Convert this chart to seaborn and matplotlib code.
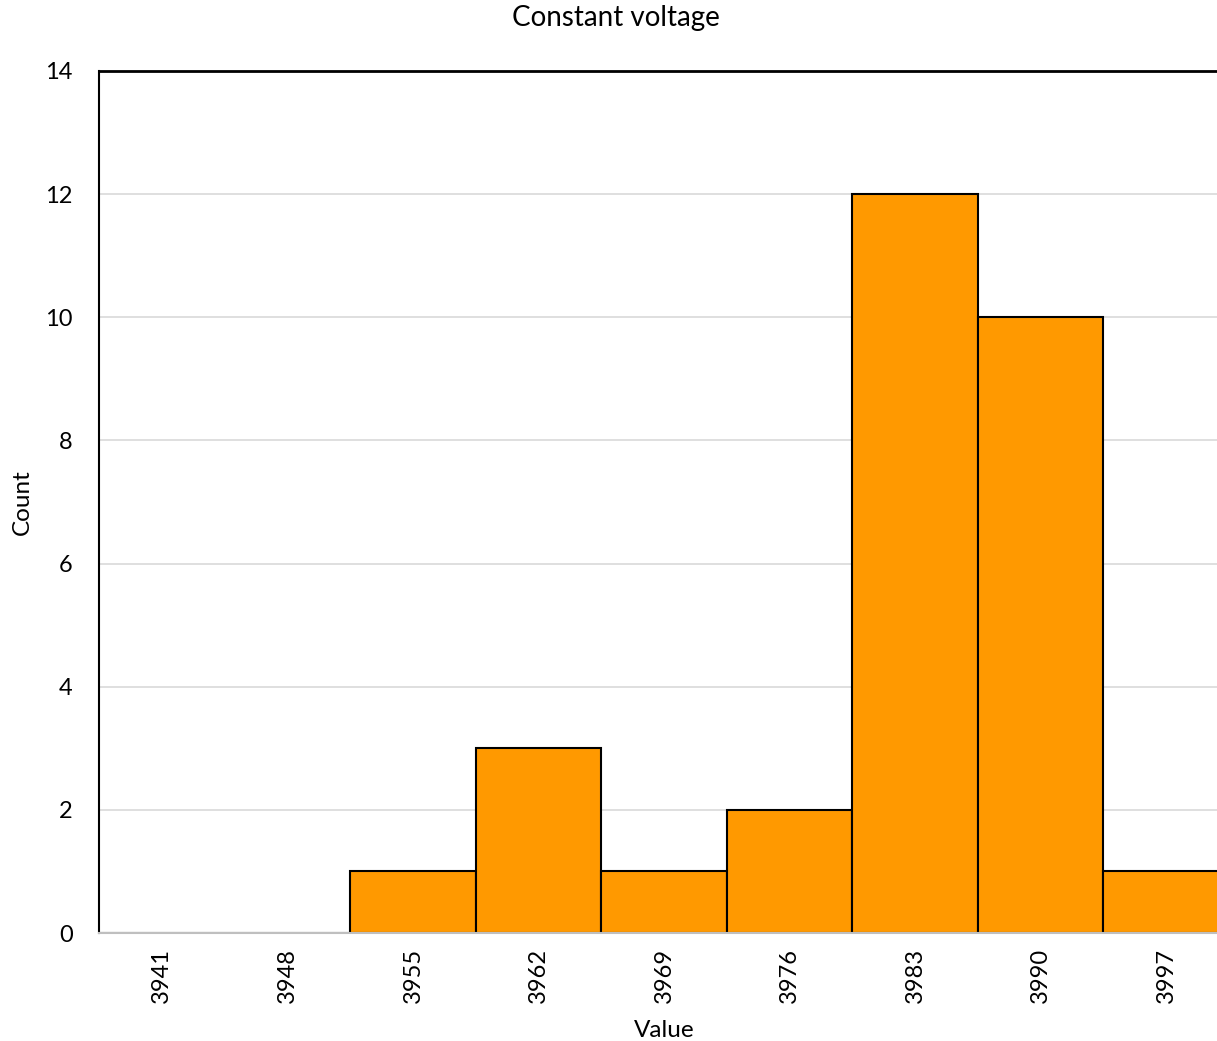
import matplotlib
matplotlib.use("Agg")
import matplotlib.pyplot as plt
import seaborn as sns
import pandas as pd

# Histogram bins (bin label) and counts
bin_labels = ["3941", "3948", "3955", "3962", "3969", "3976", "3983", "3990", "3997"]
counts = [0, 0, 1, 3, 1, 2, 12, 10, 1]
y_ticks = [0, 2, 4, 6, 8, 10, 12, 14]

sns.set_theme(style="white")
plt.rcParams["font.family"] = ["Lato", "DejaVu Sans"]

df = pd.DataFrame({"Value": bin_labels, "Count": counts})

fig = plt.figure(figsize=(12.17, 10.41), dpi=100)
# the last bin runs slightly past the right edge of the figure
ax = fig.add_axes([0.0814, 0.1037, 0.9285, 0.8281])

sns.barplot(data=df, x="Value", y="Count", order=bin_labels, color="#FF9900",
            saturation=1, width=1.0, edgecolor="black", linewidth=1.5, ax=ax, zorder=3)

ax.set_xlim(-0.5, len(bin_labels) - 0.5)
ax.set_ylim(0, 14)
ax.set_yticks(y_ticks)
ax.yaxis.grid(True, color="#D9D9D9", linewidth=1.2, zorder=0)
ax.set_axisbelow(True)

ax.spines["right"].set_visible(False)
ax.spines["top"].set_color("black")
ax.spines["top"].set_linewidth(2)
ax.spines["left"].set_color("black")
ax.spines["left"].set_linewidth(1.5)
ax.spines["bottom"].set_color("#BFBFBF")
ax.spines["bottom"].set_linewidth(1.5)
ax.spines["bottom"].set_zorder(4)

ax.tick_params(axis="x", labelrotation=90, labelsize=17, length=0, pad=11, labelcolor="black")
ax.tick_params(axis="y", labelsize=17, length=0, pad=19, labelcolor="black")
ax.set_xlabel("Value", fontsize=17.5, labelpad=12, color="black")
ax.set_ylabel("Count", fontsize=17.5, labelpad=9, color="black")
fig.suptitle("Constant voltage", x=0.506, y=1 - 18 / 1041, va="center",
             fontsize=20, color="black")

fig.savefig("out.png", dpi=100)
